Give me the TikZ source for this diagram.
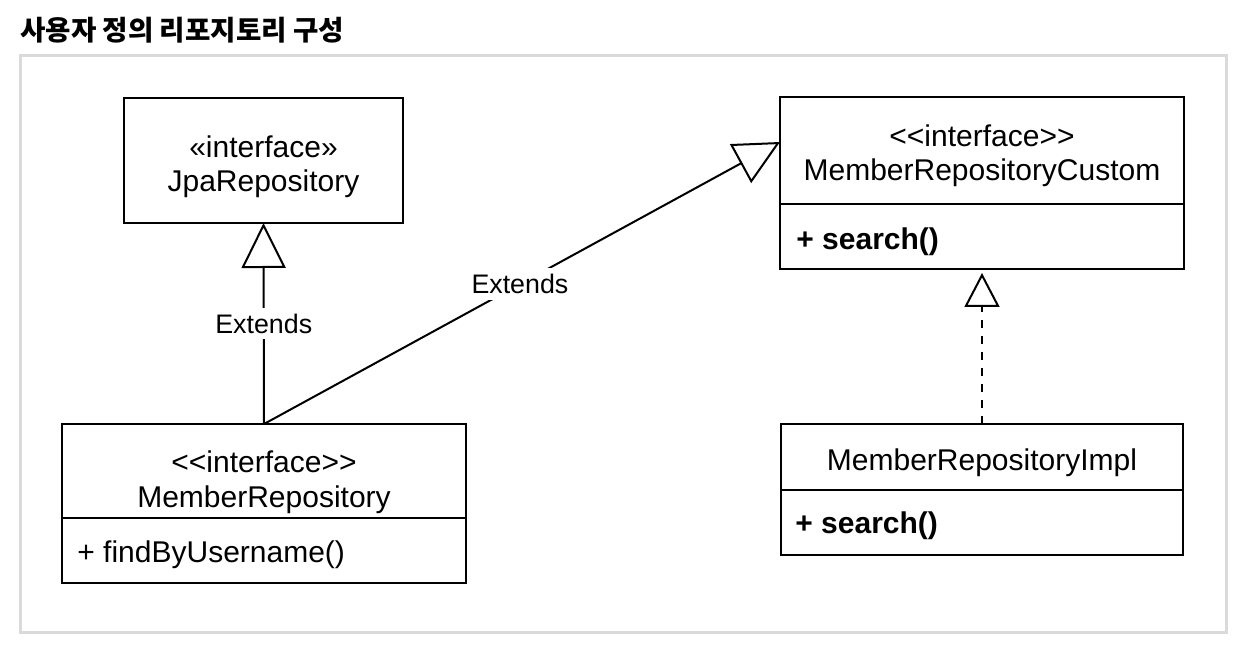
\documentclass[tikz,border=0pt]{standalone}
\usepackage{fontspec}
\setmainfont{Liberation Sans}
\newfontfamily\krfont{Noto Sans CJK KR}
\usetikzlibrary{arrows.meta,calc}
\newdimen\px \px=0.5pt
\newcommand{\stereo}[1]{<\kern0pt<#1>\kern0pt>}
\definecolor{framegray}{RGB}{218,218,218}
\begin{document}
\begin{tikzpicture}[x=0.5pt,y=-0.5pt,
  box/.style={draw=black,line width=1pt,outer sep=0pt,inner sep=0pt},
  txt/.style={inner sep=0pt,font=\fontsize{15}{17}\selectfont},
  btxt/.style={inner sep=0pt,font=\fontsize{15}{17}\selectfont\bfseries},
  lbl/.style={fill=white,inner sep=3pt,font=\fontsize{13.4}{15}\selectfont},
  conn/.style={line width=1pt,draw=black},
  bigtri/.style={-{Triangle[open,length=22.5pt,width=22pt]}},
  smalltri/.style={-{Triangle[open,length=17pt,width=17.5pt]}},
  dashline/.style={dash pattern=on 4pt off 4pt}
]
\useasboundingbox (0,0) rectangle (1254,652);
% title
\node[anchor=base west,inner sep=0pt,font=\krfont\bfseries\fontsize{13.8}{16}\selectfont] (title) at (20,41) {사용자 정의 리포지토리 구성};
% frame
\draw[framegray,line width=1.5pt] (20,56) rectangle (1226,632);

% JpaRepository
\node[box,minimum width=279\px,minimum height=125\px] (jpa) at (263.5,160.5) {};
\node[txt,anchor=base] (jpas) at (263.5,158) {«interface»};
\node[txt,anchor=base] (jpan) at (263.5,192) {JpaRepository};

% MemberRepository
\node[box,minimum width=404\px,minimum height=159\px] (mr) at (264,503.5) {};
\draw[line width=1pt] (mr.west |- 0,518) -- (mr.east |- 0,518);
\node[txt,anchor=base] (mrs) at (264,473) {\stereo{interface}};
\node[txt,anchor=base] (mrn) at (264,507) {MemberRepository};
\node[txt,anchor=base west] (mrm) at (77,562) {+ findByUsername()};

% MemberRepositoryCustom
\node[box,minimum width=404\px,minimum height=172\px] (mc) at (982,183) {};
\draw[line width=1pt] (mc.west |- 0,204) -- (mc.east |- 0,204);
\node[txt,anchor=base] (mcs) at (982,147) {\stereo{interface}};
\node[txt,anchor=base] (mcn) at (982,181) {MemberRepositoryCustom};
\node[btxt,anchor=base west] (mcm) at (796,250) {+ search()};

% MemberRepositoryImpl
\node[box,minimum width=402\px,minimum height=131\px] (mi) at (982,489.5) {};
\draw[line width=1pt] (mi.west |- 0,490) -- (mi.east |- 0,490);
\node[txt,anchor=base] (min) at (982,471) {MemberRepositoryImpl};
\node[btxt,anchor=base west] (mim) at (795,533) {+ search()};

% connectors
\coordinate (mctip) at ($(mc.north west)+(0,45)$);
\draw[conn,bigtri] (mr.north) -- node[lbl,pos=0.5] (l1) {Extends} (jpa.south);
\draw[conn,bigtri] (mr.north) -- node[lbl,pos=0.496] (l2) {Extends} (mctip);
\draw[conn,dashline,smalltri,shorten >=2pt] (mi.north) -- (mc.south);
\end{tikzpicture}
\end{document}
